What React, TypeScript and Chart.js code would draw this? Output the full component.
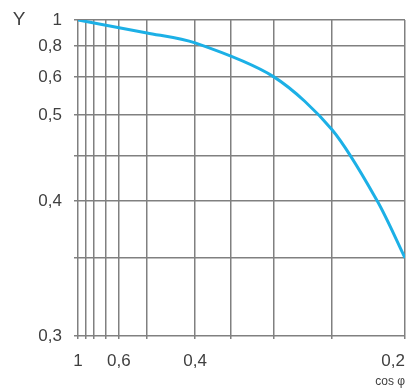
import React, { useEffect, useRef } from 'react';
import { Chart, registerables, LinearScale } from 'chart.js';

// ---- data ----
const cosPhi = [1, 0.5, 0.4, 0.3, 0.25, 0.219, 0.2];
const factorY = [1, 0.9, 0.823, 0.6, 0.482, 0.4, 0.35];

// grid lines (printed nomograph scale) and labelled ticks
const xGridValues = [1, 0.9, 0.8, 0.7, 0.6, 0.5, 0.4, 0.35, 0.3, 0.25, 0.2];
const yGridValues = [1, 0.8, 0.6, 0.5, 0.45, 0.4, 0.35, 0.3];
const xTickLabels = [1, 0.6, 0.4, 0.2];
const yTickLabels = [1, 0.8, 0.6, 0.5, 0.4, 0.3];
const xAxisTitle = 'cos φ';
const yAxisTitle = 'Y';

// ---- axis calibration of the non-linear printed scales (value -> fraction of axis) ----
const xCalValues = [1, 0.9, 0.8, 0.7, 0.6, 0.5, 0.4, 0.35, 0.3, 0.25, 0.2];
const xCalFractions = [0, 0.024, 0.049, 0.086, 0.125, 0.211, 0.358, 0.468, 0.599, 0.777, 1];
const yCalValues = [0.3, 0.35, 0.4, 0.45, 0.5, 0.6, 0.8, 1];
const yCalFractions = [0, 0.247, 0.427, 0.57, 0.699, 0.82, 0.918, 1];

const CAL: Record<string, { v: number[]; f: number[] }> = {
  x: { v: xCalValues, f: xCalFractions },
  y: { v: yCalValues, f: yCalFractions },
};
const GRID: Record<string, number[]> = { x: xGridValues, y: yGridValues };

function interp(v: number, a: number[], b: number[]): number {
  const n = a.length;
  for (let i = 0; i < n - 1; i++) {
    const p = a[i];
    const q = a[i + 1];
    const lo = Math.min(p, q);
    const hi = Math.max(p, q);
    const before = i === 0 && (p < q ? v < p : v > p);
    if ((v >= lo && v <= hi) || before || i === n - 2) {
      return b[i] + ((v - p) / (q - p)) * (b[i + 1] - b[i]);
    }
  }
  return b[0];
}

function fmt(v: number): string {
  return String(v).replace('.', ',');
}

class CalibratedScale extends LinearScale {
  static id = 'calibrated';
  static defaults = {};

  buildTicks() {
    const t = (GRID[(this as any).id] || []).map((v) => ({ value: v }));
    (this as any).start = (this as any).min;
    (this as any).end = (this as any).max;
    return t as any;
  }

  getPixelForValue(value: number) {
    if (value === null || value === undefined || isNaN(value)) return NaN;
    const c = CAL[(this as any).id];
    return this.getPixelForDecimal(interp(value, c.v, c.f));
  }

  getValueForPixel(pixel: number) {
    const c = CAL[(this as any).id];
    return interp(this.getDecimalForPixel(pixel), c.f, c.v);
  }

  _computeLabelItems(chartArea: any) {
    const items = (super._computeLabelItems as any)(chartArea);
    if ((this as any).id === 'x') {
      for (const it of items) {
        if (it.label === fmt(xTickLabels[xTickLabels.length - 1])) {
          it.options.textAlign = 'right';
        }
      }
    }
    return items;
  }
}

Chart.register(...registerables, CalibratedScale as any);

const FONT = '"Liberation Sans", Arial, Helvetica, sans-serif';
const TEXT = '#404040';
const GRIDCOL = '#808080';

const yTitlePlugin = {
  id: 'yTitle',
  afterDraw(chart: any) {
    const ctx = chart.ctx;
    ctx.save();
    ctx.font = `19px ${FONT}`;
    ctx.fillStyle = TEXT;
    ctx.textAlign = 'center';
    ctx.textBaseline = 'middle';
    ctx.fillText(yAxisTitle, 19, chart.chartArea.top);
    ctx.restore();
  },
};

export default function App() {
  const ref = useRef<HTMLCanvasElement>(null);

  useEffect(() => {
    const canvas = ref.current;
    if (!canvas) return;
    const chart = new Chart(canvas, {
      type: 'line',
      data: {
        datasets: [
          {
            data: cosPhi.map((x, i) => ({ x, y: factorY[i] })),
            borderColor: '#1cb0e6',
            borderWidth: 3,
            pointRadius: 0,
            tension: 0.3,
            fill: false,
          },
        ],
      },
      options: {
        responsive: false,
        animation: false,
        layout: { padding: { left: 0, top: 20, right: 2, bottom: 0 } },
        plugins: { legend: { display: false }, tooltip: { enabled: false }, title: { display: false } },
        scales: {
          x: {
            type: 'calibrated' as any,
            position: 'bottom',
            min: 0.2,
            max: 1,
            grid: { color: GRIDCOL, lineWidth: 1.5, tickLength: 3, drawTicks: true },
            border: { display: false },
            ticks: {
              autoSkip: false,
              maxRotation: 0,
              padding: 12,
              color: TEXT,
              font: { family: FONT, size: 17 },
              callback: (v: any) => (xTickLabels.includes(Number(v)) ? fmt(Number(v)) : ''),
            },
            title: {
              display: true,
              text: xAxisTitle,
              align: 'end',
              color: TEXT,
              font: { family: FONT, size: 12 },
              padding: { top: 0, bottom: 3 },
            },
            afterFit: (s: any) => {
              s.height = 56;
              s.paddingLeft = 0;
              s.paddingRight = 0;
            },
          } as any,
          y: {
            type: 'calibrated' as any,
            position: 'left',
            min: 0.3,
            max: 1,
            grid: { color: GRIDCOL, lineWidth: 1.5, tickLength: 4, drawTicks: true },
            border: { display: false },
            ticks: {
              autoSkip: false,
              padding: 12,
              color: TEXT,
              font: { family: FONT, size: 17 },
              callback: (v: any) => (yTickLabels.includes(Number(v)) ? fmt(Number(v)) : ''),
            },
            afterFit: (s: any) => {
              s.width = 78;
              s.paddingTop = 0;
              s.paddingBottom = 0;
            },
          } as any,
        },
      },
      plugins: [yTitlePlugin],
    } as any);
    return () => chart.destroy();
  }, []);

  return (
    <div style={{ position: 'absolute', left: 0, top: 0, width: 407, height: 392, background: '#fff' }}>
      <canvas ref={ref} width={407} height={392} style={{ display: 'block' }} />
    </div>
  );
}
